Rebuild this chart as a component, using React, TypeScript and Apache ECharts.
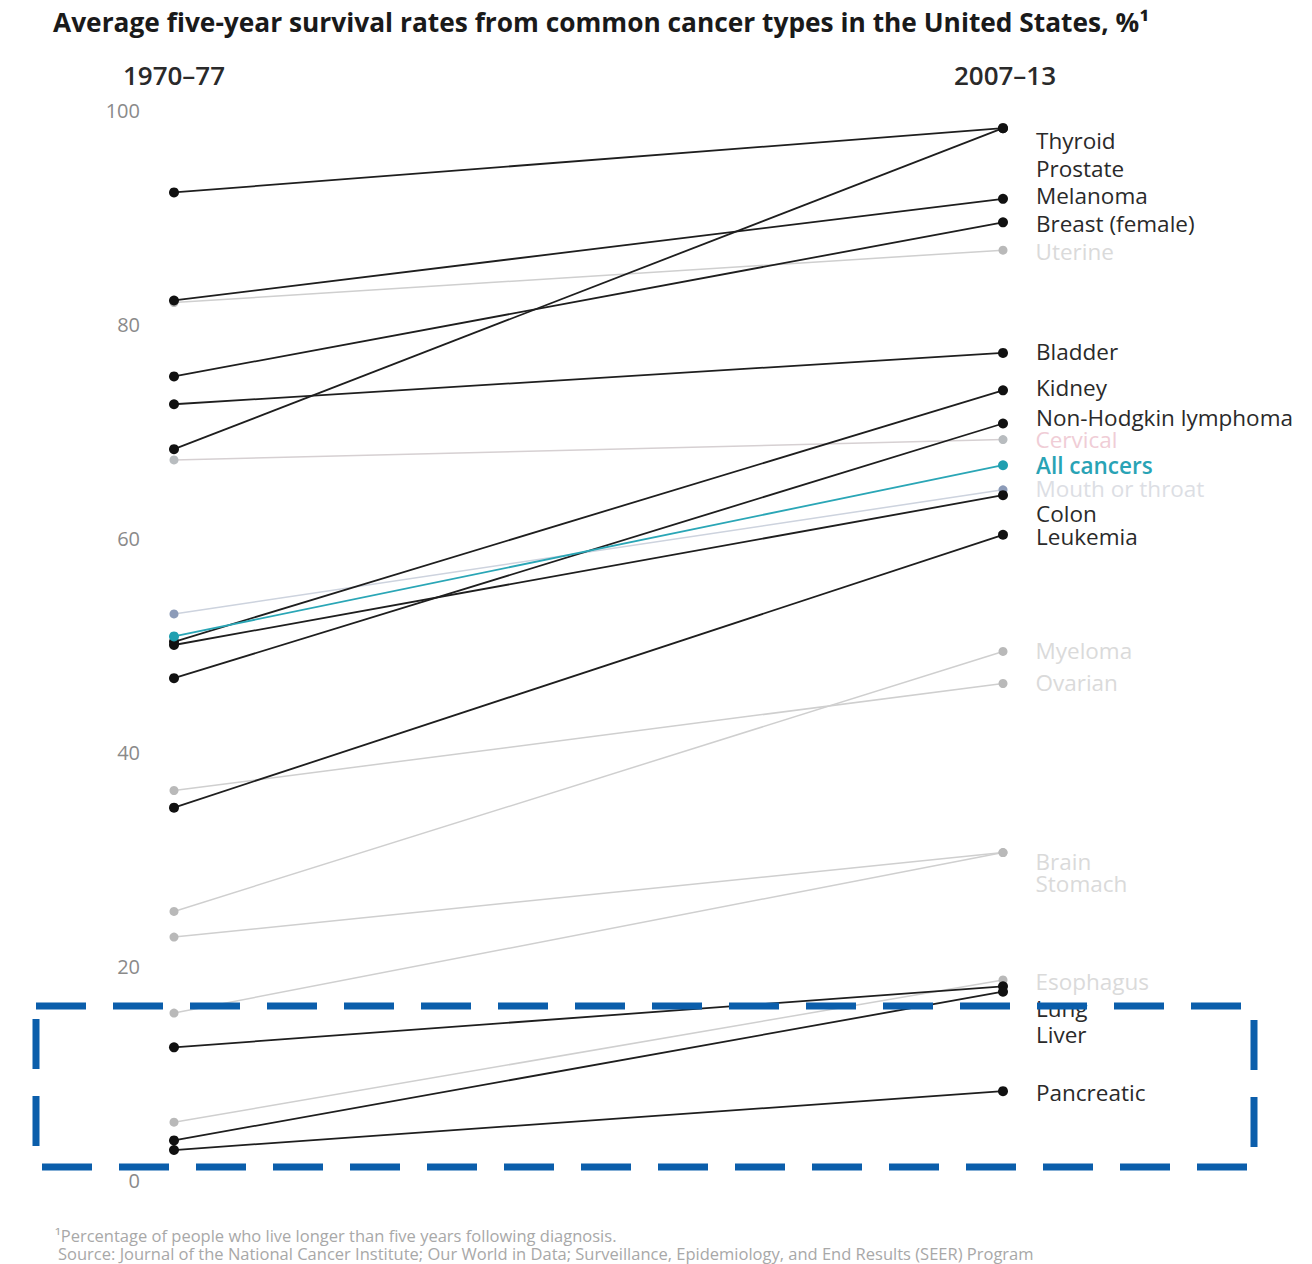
import React, { useEffect, useRef } from "react";
import * as echarts from "echarts";

const periods = ["1970–77", "2007–13"];
const cancers = [
  "Thyroid", "Prostate", "Melanoma", "Breast (female)", "Uterine", "Bladder", "Kidney",
  "Non-Hodgkin lymphoma", "Cervical", "All cancers", "Mouth or throat", "Colon", "Leukemia",
  "Myeloma", "Ovarian", "Brain", "Stomach", "Esophagus", "Lung", "Liver", "Pancreatic",
];
const rate1970 = [92.3, 68.3, 82.2, 75.1, 82.0, 72.5, 50.3, 46.9, 67.3, 50.8, 52.9, 50.0, 34.8, 25.1, 36.4, 22.7, 15.6, 5.4, 12.4, 3.7, 2.8];
const rate2007 = [98.3, 98.3, 91.7, 89.5, 86.9, 77.3, 73.8, 70.7, 69.2, 66.8, 64.5, 64.0, 60.3, 49.4, 46.4, 30.6, 30.6, 18.7, 18.1, 17.6, 8.3];
const tone = [
  "dark", "dark", "dark", "dark", "faint", "dark", "dark", "dark", "pink", "highlight", "blue",
  "dark", "dark", "faint", "faint", "faint", "faint", "faint", "dark", "dark", "dark",
];
// vertical shift of each right-hand label, in pixels
const labelShift = [12, 40, -3, 1, 1, -1, -3, -6, 0, 0, -1, 18, 2, -1, -1, 9, 31, 2, 22, 43, 1];
const yTicks = [0, 20, 40, 60, 80, 100];
const title = "Average five-year survival rates from common cancer types in the United States, %¹";
const footnote1 = "¹Percentage of people who live longer than five years following diagnosis.";
const footnote2 = "Source: Journal of the National Cancer Institute; Our World in Data; Surveillance, Epidemiology, and End Results (SEER) Program";

const FONT = "'Open Sans', 'Liberation Sans', sans-serif";

const styles: Record<string, any> = {
  dark: { line: "#1e1e1e", point: "#111111", label: "#2a2a2a", width: 1.8, size: 10, z: 5, weight: "normal" },
  faint: { line: "#cfcfcf", point: "#b9b9b9", label: "#dadada", width: 1.5, size: 9, z: 2, weight: "normal" },
  pink: { line: "#d6d0d2", point: "#b8bcbf", label: "#f0cdd6", width: 1.5, size: 9, z: 2, weight: "normal" },
  blue: { line: "#cdd3de", point: "#8c9bb8", label: "#dcdee4", width: 1.5, size: 9, z: 2, weight: "normal" },
  highlight: { line: "#2aa6b6", point: "#1f9fb0", label: "#29a3b5", width: 1.8, size: 10, z: 6, weight: 600 },
};

export default function App() {
  const ref = useRef<HTMLDivElement>(null);
  useEffect(() => {
    document.body.style.margin = "0";
    const chart = echarts.init(ref.current!, null, { renderer: "svg" });
    const series = cancers.map((name, i) => {
      const s = styles[tone[i]];
      return {
        type: "line",
        name,
        z: s.z,
        symbol: "circle",
        symbolSize: s.size,
        lineStyle: { color: s.line, width: s.width },
        itemStyle: { color: s.point },
        emphasis: { disabled: true },
        data: [
          [0, rate1970[i]],
          {
            value: [1, rate2007[i]],
            label: {
              show: true,
              formatter: name,
              position: "right",
              distance: 28,
              offset: [0, labelShift[i]],
              color: s.label,
              fontSize: 22.5,
              lineHeight: 20,
              fontWeight: s.weight,
              fontFamily: FONT,
            },
          },
        ],
      };
    });
    chart.setOption({
      animation: false,
      backgroundColor: "#ffffff",
      grid: { left: 174, right: 309, top: 110, bottom: 84 },
      xAxis: { type: "value", min: 0, max: 1, show: false },
      yAxis: {
        type: "value",
        min: yTicks[0],
        max: yTicks[yTicks.length - 1],
        interval: 20,
        axisLine: { show: false },
        axisTick: { show: false },
        splitLine: { show: false },
        axisLabel: { color: "#8a8a8a", fontSize: 20, margin: 34, fontFamily: FONT },
      },
      series,
      graphic: [
        {
          type: "text",
          left: 53,
          top: 9,
          style: { text: title, fontSize: 26.3, fontWeight: "bold", fill: "#1a1a1a", fontFamily: FONT },
        },
        {
          type: "text",
          x: 174,
          y: 75,
          style: { text: periods[0], fontSize: 26, fontWeight: 600, fill: "#2a2a2a", fontFamily: FONT, align: "center", verticalAlign: "middle" },
        },
        {
          type: "text",
          x: 1005,
          y: 75,
          style: { text: periods[1], fontSize: 26, fontWeight: 600, fill: "#2a2a2a", fontFamily: FONT, align: "center", verticalAlign: "middle" },
        },
        {
          type: "text",
          left: 55,
          top: 1227,
          style: { text: footnote1, fontSize: 16.5, lineHeight: 17, fill: "#a8a8a8", fontFamily: FONT },
        },
        {
          type: "text",
          left: 58,
          top: 1245,
          style: { text: footnote2, fontSize: 16.5, lineHeight: 17, fill: "#a8a8a8", fontFamily: FONT },
        },
        {
          type: "rect",
          z: 100,
          shape: { x: 36, y: 1006, width: 1218, height: 161 },
          style: { fill: "none", stroke: "#0b5eab", lineWidth: 7, lineDash: [50, 27] },
        },
      ],
    });
    return () => chart.dispose();
  }, []);
  return <div ref={ref} style={{ width: 1312, height: 1264 }} />;
}
